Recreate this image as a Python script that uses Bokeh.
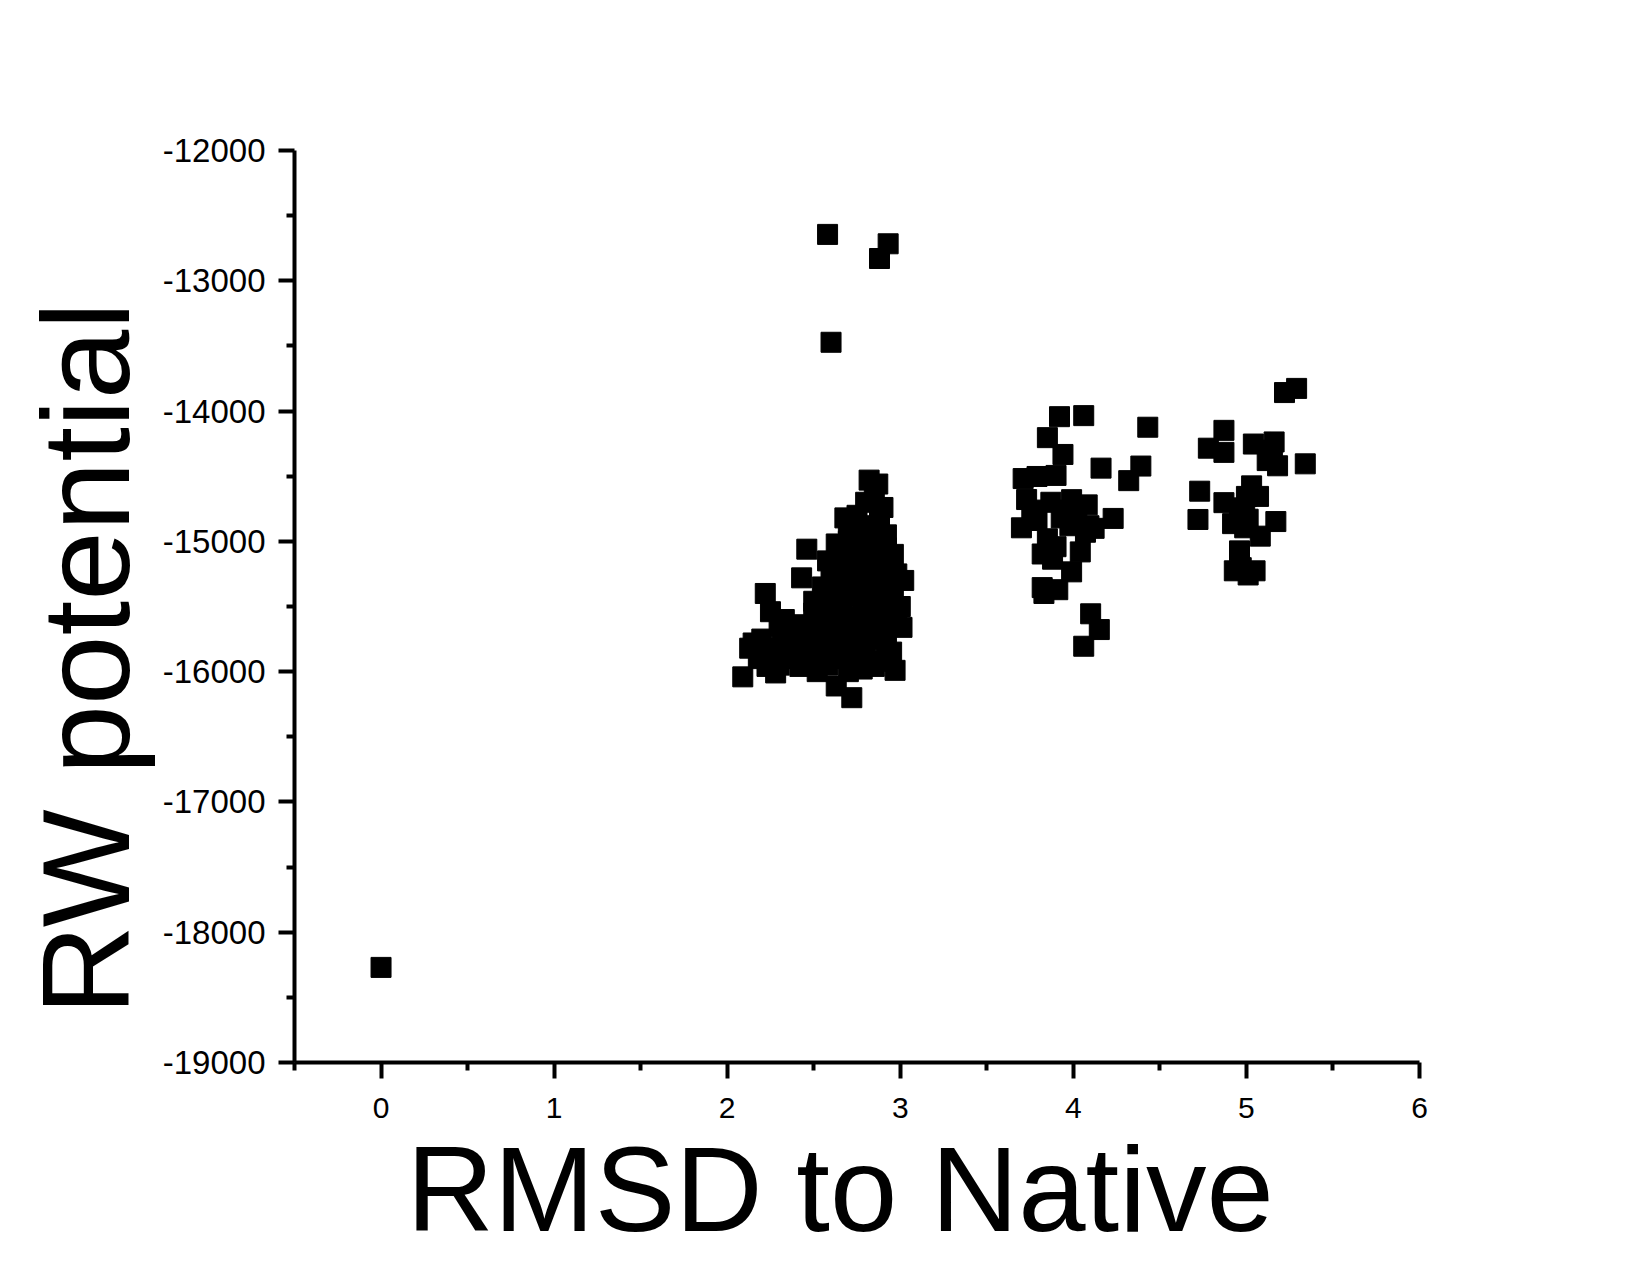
from bokeh.plotting import figure
from bokeh.models import FixedTicker, Range1d
from bokeh.embed import file_html
from bokeh.resources import INLINE

# ---- data ----
native_x = [0.0]
native_y = [-18270]

outlier_x = [2.58, 2.93, 2.88, 2.60]
outlier_y = [-12644, -12716, -12829, -13472]

c1_x = [2.82, 2.87, 2.85, 2.80, 2.90, 2.88, 2.75, 2.68, 2.72, 2.80, 2.92, 2.63, 2.70, 2.78, 2.85,
        2.96, 2.66, 2.74, 2.82, 2.90, 2.98, 3.02, 2.60, 2.68, 2.76, 2.84, 2.92, 2.55, 2.64, 2.72,
        2.80, 2.88, 2.96, 3.00, 2.50, 2.58, 2.66, 2.74, 2.82, 2.90, 2.98, 3.01, 2.46, 2.43, 2.53,
        2.60, 2.68, 2.76, 2.84, 2.92, 2.95, 2.97, 2.88, 2.80, 2.72, 2.64, 2.56, 2.48, 2.40, 2.32,
        2.25, 2.22, 2.30, 2.20, 2.13, 2.09, 2.18, 2.23, 2.28, 2.35, 2.42, 2.50, 2.58, 2.65, 2.72,
        2.63, 2.70, 2.78, 2.85, 2.45, 2.38, 2.27, 2.15, 2.33, 2.55, 2.62, 2.70, 2.78, 2.86, 2.94,
        2.60, 2.68, 2.76, 2.84, 2.92, 2.70, 2.78, 2.86, 2.58, 2.66, 2.50, 2.37, 2.44, 2.75, 2.90,
        2.52, 2.30]
c1_y = [-14530, -14560, -14650, -14700, -14740, -14850, -14800, -14820, -14900, -14920, -14950,
        -15020, -15000, -15050, -15030, -15100, -15120, -15150, -15180, -15200, -15250, -15300,
        -15250, -15280, -15300, -15330, -15360, -15350, -15400, -15420, -15450, -15470, -15420,
        -15500, -15460, -15500, -15550, -15580, -15600, -15560, -15620, -15660, -15060, -15280,
        -15620, -15680, -15700, -15720, -15750, -15780, -15850, -15990, -15920, -15880, -15850,
        -15820, -15800, -15760, -15720, -15700, -15540, -15400, -15650, -15750, -15820, -16040,
        -15900, -15960, -16010, -15900, -15960, -15900, -15950, -15900, -16200, -16110, -16000,
        -15980, -15960, -15850, -15800, -15820, -15780, -15600, -15700, -15600, -15650, -15500,
        -15400, -15280, -15450, -15350, -15230, -15100, -15050, -14860, -14980, -14880, -15150,
        -15200, -15550, -15680, -15640, -15780, -15700, -16000, -15950]

c2_x = [4.06, 3.92, 4.43, 3.85, 3.94, 4.39, 4.16, 4.32, 3.71, 3.79, 3.90, 3.73, 3.87, 3.99,
        3.93, 4.08, 4.23, 3.70, 3.79, 4.09, 4.07, 3.85, 3.90, 3.82, 3.88, 4.04, 3.99, 3.82,
        3.91, 4.10, 4.15, 4.06, 3.83, 3.95, 4.02, 3.76, 3.98, 4.12]
c2_y = [-14035, -14043, -14124, -14204, -14333, -14422, -14438, -14534, -14518, -14502,
        -14494, -14679, -14700, -14680, -14820, -14720, -14824, -14896, -14840, -14880,
        -14930, -14980, -15041, -15097, -15137, -15081, -15234, -15355, -15371, -15556,
        -15677, -15805, -15400, -14760, -14760, -14760, -14880, -14900]

c3_x = [5.29, 5.22, 5.34, 4.87, 4.78, 4.87, 5.04, 5.16, 5.12, 5.18, 5.15, 4.73, 4.72, 4.87,
        4.96, 5.00, 5.07, 5.03, 4.92, 4.99, 5.17, 5.08, 4.96, 4.97, 4.93, 5.05, 5.01, 4.99, 5.01]
c3_y = [-13826, -13858, -14405, -14148, -14285, -14317, -14253, -14237, -14380, -14420,
        -14300, -14615, -14832, -14703, -14743, -14655, -14655, -14574, -14864, -14896,
        -14848, -14960, -15073, -15202, -15226, -15226, -15258, -14790, -14830]

xs = native_x + outlier_x + c1_x + c2_x + c3_x
ys = native_y + outlier_y + c1_y + c2_y + c3_y

x_major = [0, 1, 2, 3, 4, 5, 6]
x_minor = [-0.5, 0.5, 1.5, 2.5, 3.5, 4.5, 5.5]
y_major = [-19000, -18000, -17000, -16000, -15000, -14000, -13000, -12000]
y_minor = [-18500, -17500, -16500, -15500, -14500, -13500, -12500]

x_label = "RMSD to Native"
y_label = "RW potential"

FONT = "Liberation Sans"
NBSP = "\u00a0"

p = figure(width=1634, height=1259, output_backend="svg", toolbar_location=None,
           x_range=Range1d(-0.5, 6), y_range=Range1d(-19000, -12000),
           min_border_left=294, min_border_top=150, min_border_right=215, min_border_bottom=197)
p.scatter(xs, ys, marker="square", size=20, color="black", line_color="black")

p.grid.visible = False
p.outline_line_color = None
p.background_fill_color = "white"
p.border_fill_color = "white"

p.xaxis.ticker = FixedTicker(ticks=x_major, minor_ticks=x_minor)
p.yaxis.ticker = FixedTicker(ticks=y_major, minor_ticks=y_minor)
p.xaxis.major_label_overrides = {t: str(t) for t in x_major}
p.yaxis.major_label_overrides = {t: str(t) for t in y_major}

for ax in (p.xaxis[0], p.yaxis[0]):
    ax.axis_line_width = 4
    ax.axis_line_color = "black"
    ax.major_tick_line_width = 4
    ax.minor_tick_line_width = 4
    ax.major_tick_out = 16
    ax.major_tick_in = 0
    ax.minor_tick_out = 8
    ax.minor_tick_in = 0
    ax.major_label_text_font = FONT
    ax.major_label_text_color = "black"
    ax.axis_label_text_font = FONT
    ax.axis_label_text_font_style = "normal"
    ax.axis_label_text_color = "black"

p.xaxis.major_label_text_font_size = "30px"
p.yaxis.major_label_text_font_size = "33px"
p.xaxis.axis_label = x_label + NBSP
p.yaxis.axis_label = y_label + NBSP * 3
p.xaxis.axis_label_text_font_size = "121px"
p.yaxis.axis_label_text_font_size = "125px"
p.xaxis.major_label_standoff = 19
p.yaxis.major_label_standoff = 13
p.xaxis.axis_label_standoff = 0
p.yaxis.axis_label_standoff = 5

open("out.html", "w").write(file_html(p, INLINE))
